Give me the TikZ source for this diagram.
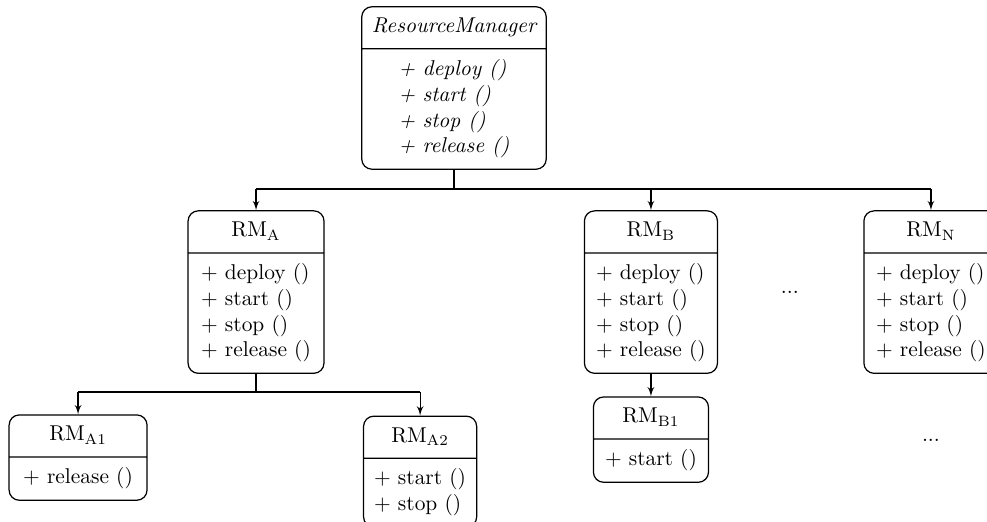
\documentclass[tikz,border=0pt]{standalone}
\usepackage{tikz}
\usetikzlibrary{shapes,shapes.multipart,arrows,positioning,calc}
\tikzset{
	class/.style = {draw, fill=white, rectangle split, rectangle split parts=2, rounded corners=5pt, semithick, inner xsep=5pt, inner ysep=4pt, minimum width=66pt, font=\fontsize{10.5}{12}\selectfont},
	tmp/.style  = {coordinate},
	dots/.style = {inner sep=0pt, font=\fontsize{10.5}{12}\selectfont}
}
\newcommand{\methods}[1]{\renewcommand{\arraystretch}{1.05}\begin{tabular}{@{}l@{}}#1\end{tabular}}

\begin{document}
\begin{tikzpicture}[node distance=2.5cm,>=latex',semithick]
	\useasboundingbox (-222.46pt,43.12pt) rectangle (261.17pt,-212.66pt);
	% ========================== Nodes ============================
	% Abstract manager on top
	\node [class, minimum width=88.2pt] (RM) {\strut\itshape ResourceManager
		\nodepart{second}\itshape\methods{+ deploy ()\\ + start ()\\ + stop ()\\ + release ()}};
	\node [tmp, below of=RM, node distance = 49.5pt] (tmpsplit1){};
	\node [tmp, left of=tmpsplit1, node distance = 97pt] (tmpA){};
	\node [tmp, right of=tmpsplit1, node distance = 96.5pt] (tmpB){};
	\node [tmp, right of=tmpsplit1, node distance = 233.7pt] (tmpN){};
	
	% Managers in middle row
	\node [class, below of=tmpA, node distance = 50.5pt, minimum width=66.6pt] (RMA) {\strut RM\textsubscript{A}
		\nodepart{second}\methods{+ deploy ()\\ + start ()\\ + stop ()\\ + release ()}};
	\node [class, below of=tmpB, node distance = 50.5pt, minimum width=65.2pt] (RMB) {\strut RM\textsubscript{B}
		\nodepart{second}\methods{+ deploy ()\\ + start ()\\ + stop ()\\ + release ()}};
	\node [class, below of=tmpN, node distance = 50.5pt, minimum width=65.7pt] (RMN) {\strut RM\textsubscript{N}
		\nodepart{second}\methods{+ deploy ()\\ + start ()\\ + stop ()\\ + release ()}};
	\node [dots, right of=RMB, node distance = 68.1pt] (dotsBN) {...};
	
	% Managers in bottom row
	\node [tmp, below of=RMA, node distance = 49pt] (tmpsplit2){};
	\node [tmp, left of=tmpsplit2, node distance = 87.2pt] (tmpA1){};
	\node [tmp, right of=tmpsplit2, node distance = 80.4pt] (tmpA2){};
	\node [class, below of=tmpA1, node distance = 32.1pt, minimum width=67.6pt] (RMA1) {\strut RM\textsubscript{A1}
		\nodepart{second}\methods{+ release ()}};
	\node [class, below of=tmpA2, node distance = 39pt, minimum width=55.4pt] (RMA2) {\strut RM\textsubscript{A2}
		\nodepart{second}\methods{+ start ()\\ + stop ()}};
	\node [class, below of=RMB, node distance = 72.3pt, minimum width=56.4pt] (RMB1) {\strut RM\textsubscript{B1}
		\nodepart{second}\methods{+ start ()}};
	\node [dots, below of=RMN, node distance = 72.5pt] (dotsN) {...};
	
	% ========================== Lines ============================
	\draw [-] (RM) -- (tmpsplit1);
	\draw [-] (tmpA) -- (tmpN);
	\draw [->] (tmpA) -- (RMA);
	\draw [->] (tmpB) -- (RMB);
	\draw [->] (tmpN) -- (RMN);
	
	\draw [-] (RMA) -- (tmpsplit2);
	\draw [-] (tmpA1) -- (tmpA2);
	\draw [->] (tmpA1) -- (RMA1);
	\draw [->] (tmpA2) -- (RMA2);
	\draw [->] (RMB) -- (RMB1);
\end{tikzpicture}
\end{document}
